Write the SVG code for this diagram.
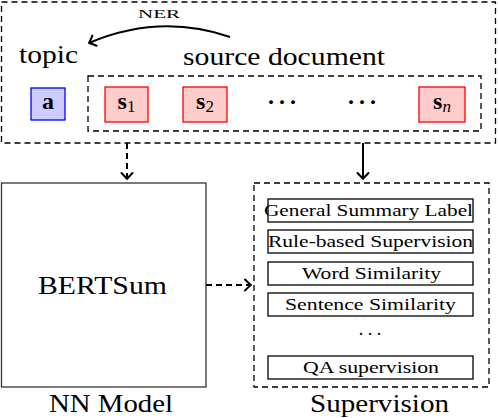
<svg xmlns="http://www.w3.org/2000/svg" width="498" height="418" viewBox="0 0 498 418">
<style>
.txt{font-family:'Liberation Serif','DejaVu Serif',serif;fill:#000}
.big{font-size:26px}
.small{font-size:16px}
.dash{fill:none;stroke:#000;stroke-width:1.3;stroke-dasharray:6 4}
.box{fill:#fff;stroke:#000;stroke-width:1.3}
.tok{fill:#ffcccc;stroke:#ff0000;stroke-width:1.3}
.topicbox{fill:#ccccff;stroke:#0000ff;stroke-width:1.3}
.conn{fill:none;stroke:#000;stroke-width:2}
</style>
<defs>
<marker id="arr" markerUnits="userSpaceOnUse" markerWidth="14" markerHeight="14" refX="0" refY="0" viewBox="-8 -7 10 14" orient="auto">
<path d="M -6 -5.5 Q -2 -1.5 0 0 Q -2 1.5 -6 5.5" fill="none" stroke="#000" stroke-width="2" stroke-linecap="round" stroke-linejoin="round"/>
</marker>
</defs>

<g id="input">
<rect class="dash" x="1.5" y="2" width="494" height="141"/>
<text class="txt big" x="48.5" y="63" text-anchor="middle" textLength="59" lengthAdjust="spacingAndGlyphs">topic</text>
<text class="txt big" x="284" y="65" text-anchor="middle" textLength="202" lengthAdjust="spacingAndGlyphs">source document</text>
</g>

<g id="topic-a">
<rect class="topicbox" x="31" y="88" width="34" height="32"/>
<text class="txt" x="48" y="109" text-anchor="middle" font-size="24" font-weight="bold">a</text>
</g>

<g id="source-document">
<rect class="dash" x="88" y="76" width="393" height="55"/>
</g>

<g id="s1">
<rect class="tok" x="105" y="87" width="43" height="35"/>
<text class="txt" x="126.5" y="109" text-anchor="middle" font-size="24"><tspan font-weight="bold">s</tspan><tspan font-size="17" dy="3">1</tspan></text>
</g>

<g id="s2">
<rect class="tok" x="183" y="87" width="44" height="35"/>
<text class="txt" x="205" y="109" text-anchor="middle" font-size="24"><tspan font-weight="bold">s</tspan><tspan font-size="17" dy="3">2</tspan></text>
</g>

<g id="dots1">
<text class="txt" x="282" y="110" text-anchor="middle" font-size="24" font-weight="bold" textLength="30" lengthAdjust="spacing">···</text>
</g>
<g id="dots2">
<text class="txt" x="362" y="110" text-anchor="middle" font-size="24" font-weight="bold" textLength="30" lengthAdjust="spacing">···</text>
</g>

<g id="sn">
<rect class="tok" x="419" y="87" width="46" height="35"/>
<text class="txt" x="442" y="109" text-anchor="middle" font-size="24"><tspan font-weight="bold">s</tspan><tspan font-size="17" font-style="italic" dy="3">n</tspan></text>
</g>

<g id="bertsum">
<rect x="1.5" y="183" width="204.5" height="204" fill="#fff" stroke="#333" stroke-width="1.3"/>
<text class="txt big" x="102.5" y="294" text-anchor="middle" textLength="129" lengthAdjust="spacingAndGlyphs">BERTSum</text>
<text class="txt big" x="111" y="412" text-anchor="middle" textLength="124" lengthAdjust="spacingAndGlyphs">NN Model</text>
</g>

<g id="supervision">
<rect class="dash" x="254" y="183" width="235" height="204"/>
<text class="txt big" x="379.5" y="412" text-anchor="middle" textLength="139" lengthAdjust="spacingAndGlyphs">Supervision</text>
</g>

<g id="general-summary-label">
<rect class="box" x="268" y="199" width="205" height="23"/>
<text class="txt small" x="368.5" y="216" text-anchor="middle" textLength="209" lengthAdjust="spacingAndGlyphs">General Summary Label</text>
</g>
<g id="rule-based-supervision">
<rect class="box" x="268" y="230" width="205" height="23"/>
<text class="txt small" x="370.5" y="247" text-anchor="middle" textLength="205" lengthAdjust="spacingAndGlyphs">Rule-based Supervision</text>
</g>
<g id="word-similarity">
<rect class="box" x="268" y="262" width="205" height="23"/>
<text class="txt small" x="371.5" y="279" text-anchor="middle" textLength="139" lengthAdjust="spacingAndGlyphs">Word Similarity</text>
</g>
<g id="sentence-similarity">
<rect class="box" x="268" y="293" width="205" height="23"/>
<text class="txt small" x="370.5" y="310" text-anchor="middle" textLength="171" lengthAdjust="spacingAndGlyphs">Sentence Similarity</text>
</g>
<g id="dots3">
<text class="txt" x="370" y="340" text-anchor="middle" font-size="18" textLength="24" lengthAdjust="spacing">···</text>
</g>
<g id="qa-supervision">
<rect class="box" x="268" y="356" width="205" height="23"/>
<text class="txt small" x="371" y="373" text-anchor="middle" textLength="136" lengthAdjust="spacingAndGlyphs">QA supervision</text>
</g>

<g id="connectors">
<path class="conn" d="M 230 37 Q 160 13 89 43" stroke-width="1.8" marker-end="url(#arr)"/>
<text class="txt" x="159" y="18" text-anchor="middle" font-size="12" textLength="42" lengthAdjust="spacingAndGlyphs">NER</text>
<line class="conn" x1="127" y1="143" x2="127" y2="179" stroke-dasharray="6 4" marker-end="url(#arr)"/>
<line class="conn" x1="363" y1="143" x2="363" y2="179" marker-end="url(#arr)"/>
<line class="conn" x1="206" y1="285" x2="251" y2="285" stroke-dasharray="6 4" marker-end="url(#arr)"/>
</g>
</svg>
